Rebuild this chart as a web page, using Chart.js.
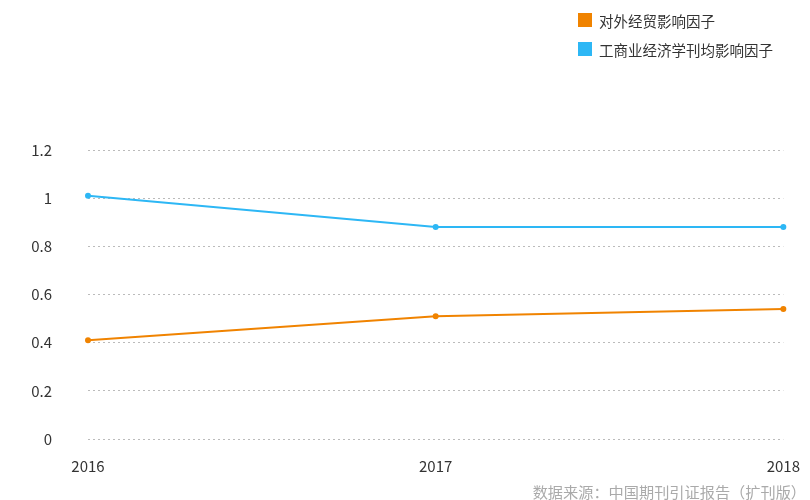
<!DOCTYPE html>
<html>
<head>
<meta charset="utf-8">
<script src="https://cdn.jsdelivr.net/npm/chart.js@4"></script>
<style>
body{margin:0;background:#fff;font-family:"Noto Sans CJK SC",sans-serif;}
#wrap{position:relative;width:810px;height:500px;}
#legend{position:absolute;left:578px;top:9px;font-size:14.5px;color:#333;}
.item{display:flex;align-items:center;height:22px;margin-bottom:7px;}
.box{width:14px;height:14px;margin-right:7px;}
#source{position:absolute;right:4px;top:480px;font-size:15.2px;color:#aaa;line-height:22px;}
</style>
</head>
<body>
<div id="wrap">
<canvas id="chart" width="810" height="500"></canvas>
<div id="legend"></div>
<div id="source">数据来源：中国期刊引证报告（扩刊版）</div>
</div>
<script>
var years = ['2016', '2017', '2018']
var tradeFactor = [0.41, 0.51, 0.54]
var journalAvgFactor = [1.01, 0.88, 0.88]
var seriesNames = ['对外经贸影响因子', '工商业经济学刊均影响因子']
var seriesColors = ['#f08300', '#2db7f5']

var legendDiv = document.getElementById('legend')
seriesNames.forEach((name, i) => {
	var item = document.createElement('div')
	item.className = 'item'
	var box = document.createElement('span')
	box.className = 'box'
	box.style.background = seriesColors[i]
	item.appendChild(box)
	item.appendChild(document.createTextNode(name))
	legendDiv.appendChild(item)
})

var ctx = document.getElementById('chart')
var myChart = new Chart(ctx, {
	type: 'line',
	data: {
		labels: years,
		datasets: [
			{
				label: seriesNames[0],
				data: tradeFactor,
				borderColor: seriesColors[0],
				backgroundColor: seriesColors[0],
				borderWidth: 2,
				pointRadius: 2,
				fill: false,
				tension: 0
			},
			{
				label: seriesNames[1],
				data: journalAvgFactor,
				borderColor: seriesColors[1],
				backgroundColor: seriesColors[1],
				borderWidth: 2,
				pointRadius: 2,
				fill: false,
				tension: 0
			}
		]
	},
	options: {
		responsive: false,
		animation: false,
		layout: {padding: {left: 31, right: 19, top: 150, bottom: 15}},
		plugins: {legend: {display: false}, tooltip: {enabled: false}},
		scales: {
			x: {
				grid: {display: false},
				border: {display: false},
				ticks: {color: '#333', font: {size: 15, family: 'Noto Sans CJK SC'}, padding: 10}
			},
			y: {
				min: 0,
				max: 1.2,
				afterFit: scale => { scale.width = 57 },
				ticks: {
					stepSize: 0.2,
					color: '#333',
					font: {size: 15, family: 'Noto Sans CJK SC'},
					padding: 36,
					callback: v => String(Math.round(v * 10) / 10)
				},
				grid: {color: '#bbb', drawTicks: false},
				border: {display: false, dash: [2, 3]}
			}
		}
	}
})
</script>
</body>
</html>
